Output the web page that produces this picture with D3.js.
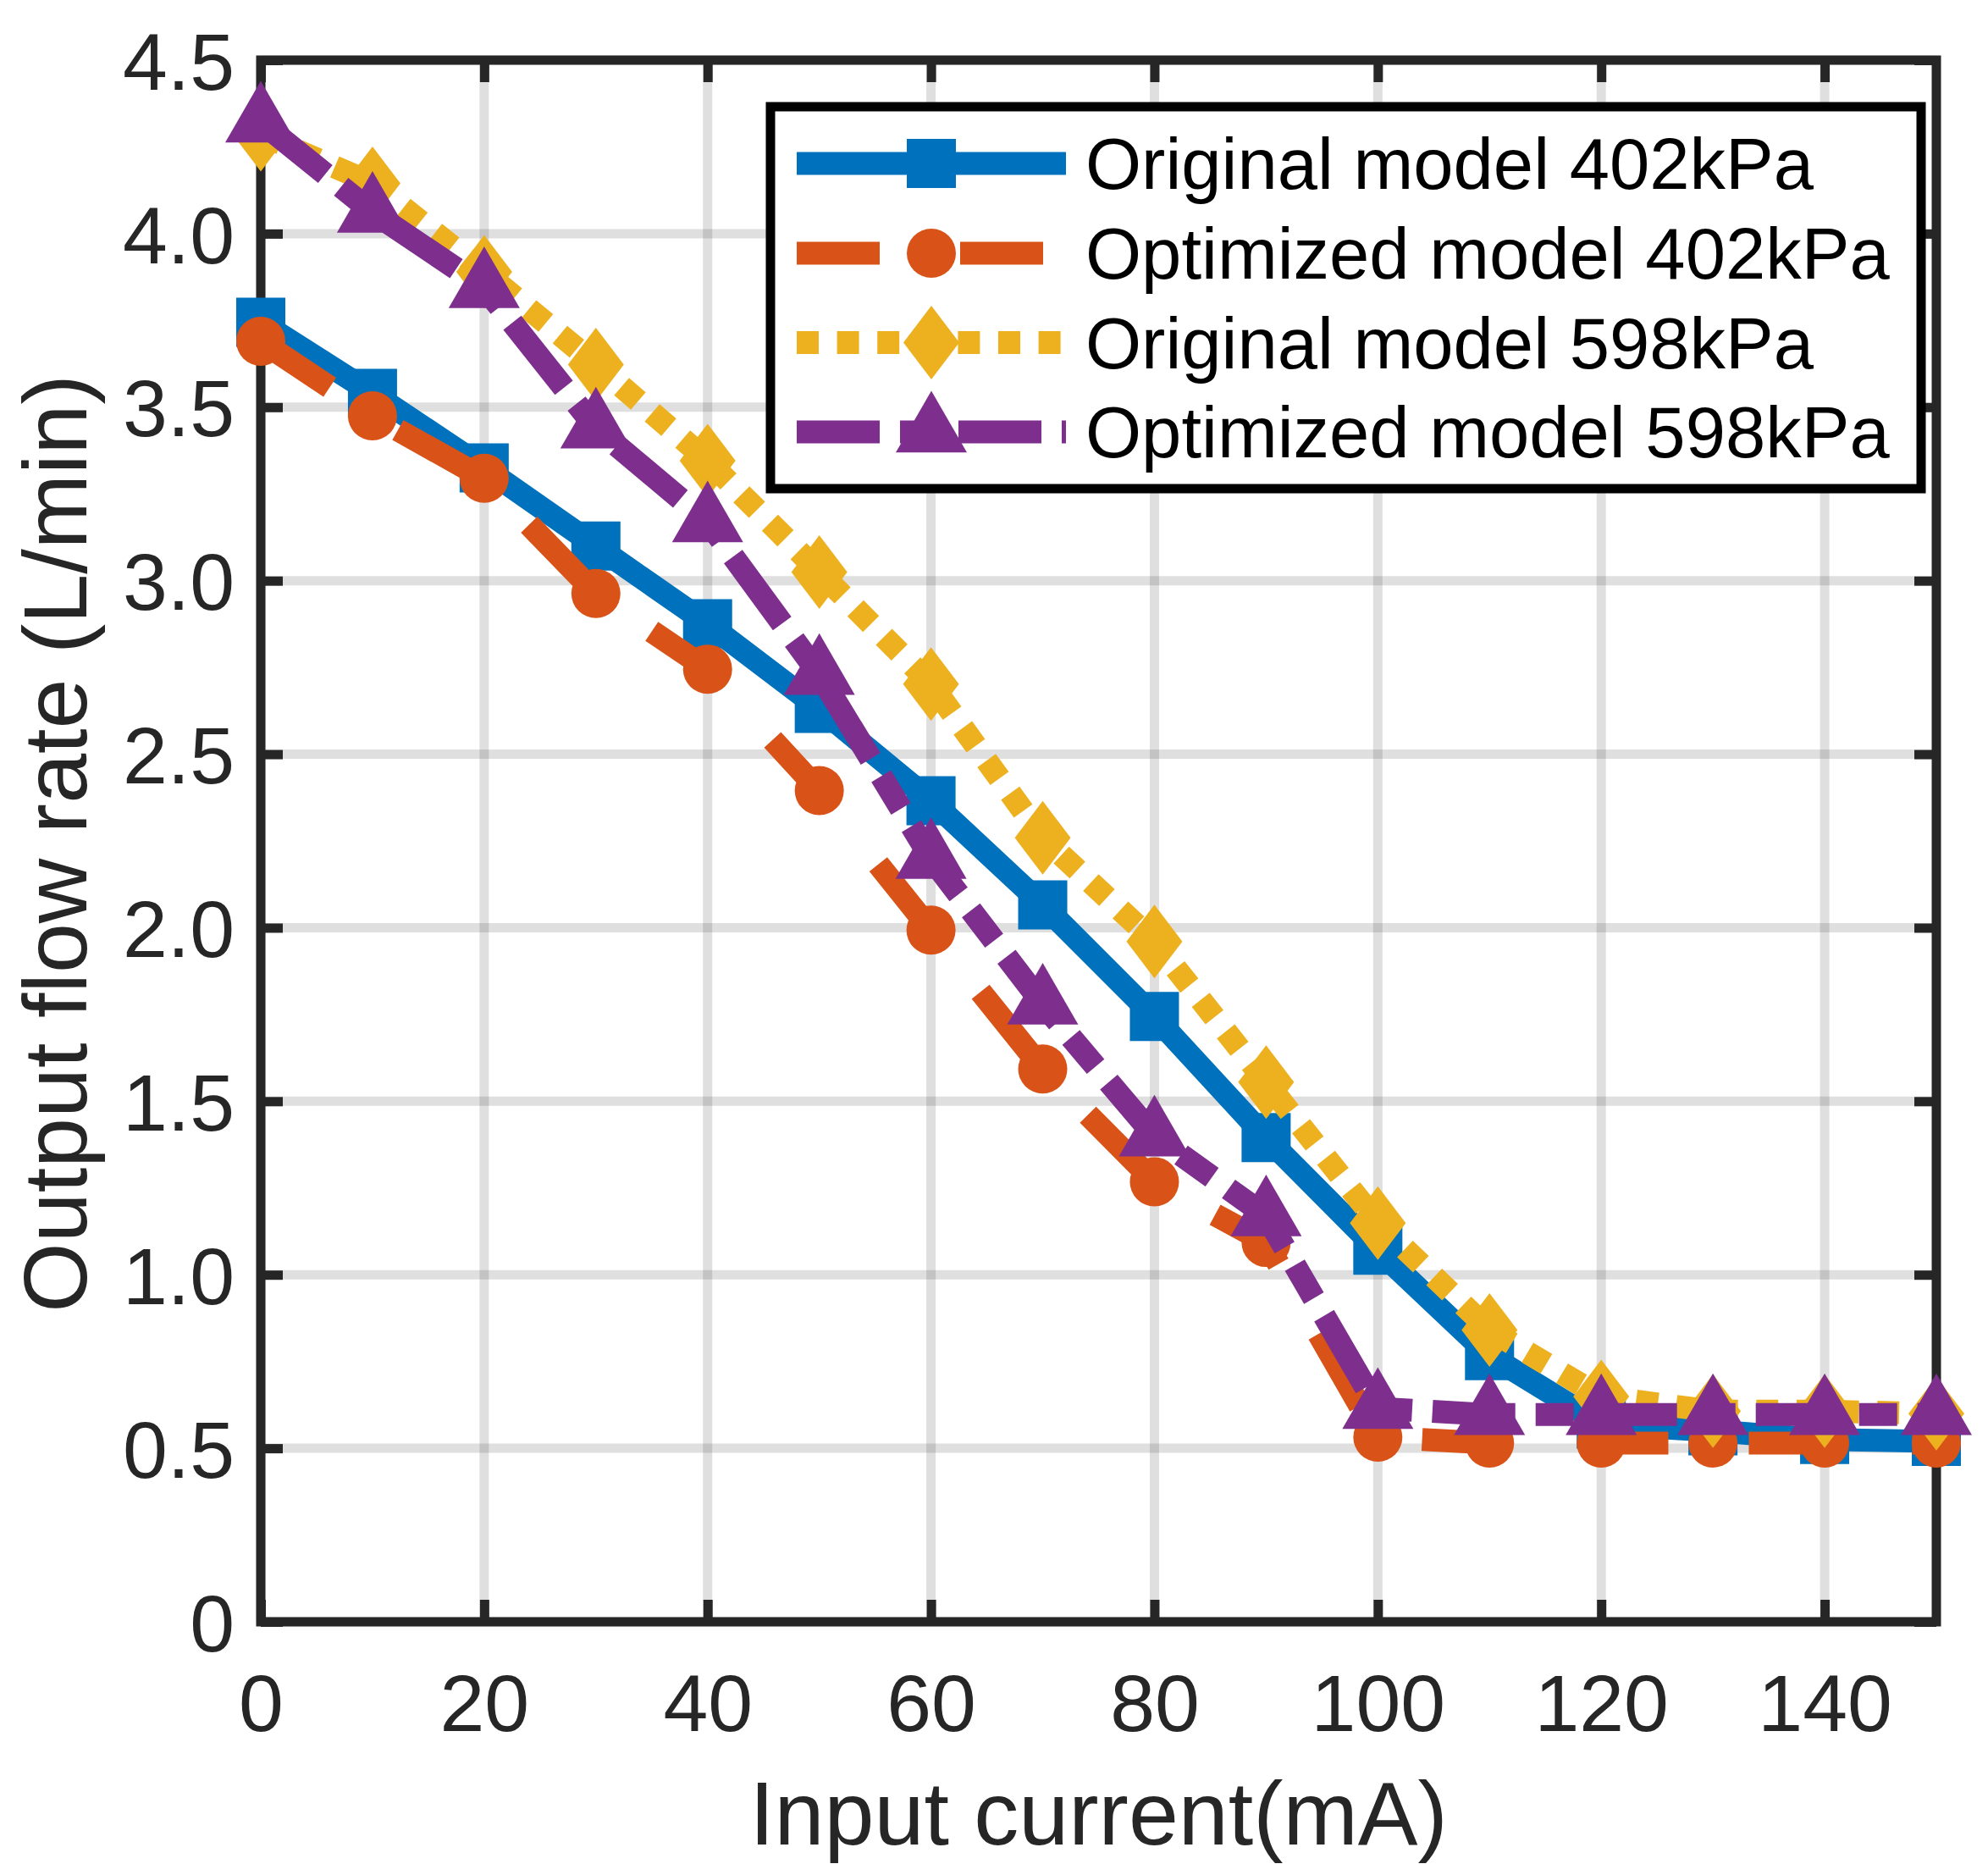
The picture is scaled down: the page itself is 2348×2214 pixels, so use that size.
<!DOCTYPE html>
<html>
<head>
<meta charset="utf-8">
<script src="https://cdn.jsdelivr.net/npm/d3@7"></script>
<style>
  html, body { margin: 0; padding: 0; background: #fff; }
  svg { display: block; }
  text { font-family: "Liberation Sans", Arial, Helvetica, sans-serif; }
</style>
</head>
<body>
<div id="chart"></div>
<script>
// data (input current in mA, flow rate in L/min)
const current = [0, 10, 20, 30, 40, 50, 60, 70, 80, 90, 100, 110, 120, 130, 140, 150];
const original402 = [3.745, 3.54, 3.325, 3.10, 2.876, 2.632, 2.366, 2.066, 1.744, 1.395, 1.071, 0.767, 0.57, 0.55, 0.525, 0.52];
const optimized402 = [3.69, 3.475, 3.295, 2.963, 2.745, 2.395, 1.993, 1.593, 1.268, 1.093, 0.532, 0.515, 0.515, 0.515, 0.515, 0.515];
const original598 = [4.285, 4.145, 3.89, 3.623, 3.346, 3.025, 2.702, 2.259, 1.96, 1.555, 1.149, 0.841, 0.649, 0.607, 0.607, 0.60];
const optimized598 = [4.322, 4.062, 3.845, 3.44, 3.17, 2.73, 2.20, 1.78, 1.40, 1.17, 0.615, 0.597, 0.597, 0.597, 0.597, 0.597];

const seriesNames = ['Original model 402kPa', 'Optimized model 402kPa', 'Original model 598kPa', 'Optimized model 598kPa'];
const xTicks = [0, 20, 40, 60, 80, 100, 120, 140];
const yTicks = [0, 0.5, 1.0, 1.5, 2.0, 2.5, 3.0, 3.5, 4.0, 4.5];
const xLabel = 'Input current(mA)';
const yLabel = 'Output flow rate (L/min)';

const W = 2348, H = 2214;
const box = { left: 308, right: 2287, top: 71, bottom: 1915 };
const ink = '#262626';

// marker shapes, sized in px (size argument ignored)
const squareMark = { draw(ctx) { ctx.rect(-29, -29, 58, 58); } };
const circleMark = { draw(ctx) { ctx.moveTo(29, 0); ctx.arc(0, 0, 29, 0, 2 * Math.PI); } };
const diamondMark = {
  draw(ctx) {
    ctx.moveTo(0, -43.5); ctx.lineTo(33, 0); ctx.lineTo(0, 43.5); ctx.lineTo(-33, 0); ctx.closePath();
  }
};
const triangleMark = {
  draw(ctx) {
    ctx.moveTo(0, -48.5); ctx.lineTo(42, 24.25); ctx.lineTo(-42, 24.25); ctx.closePath();
  }
};

const series = [
  { name: seriesNames[0], values: original402, color: '#0072BD', dash: null, mark: squareMark },
  { name: seriesNames[1], values: optimized402, color: '#D95319', dash: '98,95', mark: circleMark },
  { name: seriesNames[2], values: original598, color: '#EDB120', dash: '26,21.6', mark: diamondMark },
  { name: seriesNames[3], values: optimized598, color: '#7E2F8E', dash: '98,24,45,24', mark: triangleMark },
];

const x = d3.scaleLinear().domain([0, 150]).range([box.left, box.right]);
const y = d3.scaleLinear().domain([0, 4.5]).range([box.bottom, box.top]);

const svg = d3.select('#chart').append('svg')
  .attr('width', W)
  .attr('height', H)
  .attr('viewBox', `0 0 ${W} ${H}`);

svg.append('rect').attr('width', W).attr('height', H).attr('fill', '#fff');

// grid
const grid = svg.append('g')
  .attr('stroke', ink)
  .attr('stroke-opacity', 0.15)
  .attr('stroke-width', 11);
grid.selectAll('.gx').data(xTicks).join('line')
  .attr('x1', d => x(d)).attr('x2', d => x(d))
  .attr('y1', box.top).attr('y2', box.bottom);
grid.selectAll('.gy').data(yTicks).join('line')
  .attr('y1', d => y(d)).attr('y2', d => y(d))
  .attr('x1', box.left).attr('x2', box.right);

// axes with inward ticks on all four sides
const tickLen = 26;
const xAxisBottom = d3.axisBottom(x).tickValues(xTicks).tickSizeInner(-tickLen).tickSizeOuter(0)
  .tickFormat(d3.format('d')).tickPadding(0);
const xAxisTop = d3.axisTop(x).tickValues(xTicks).tickSizeInner(-tickLen).tickSizeOuter(0).tickFormat('');
const yAxisLeft = d3.axisLeft(y).tickValues(yTicks).tickSizeInner(-tickLen).tickSizeOuter(0)
  .tickFormat(d => d === 0 ? '0' : d3.format('.1f')(d));
const yAxisRight = d3.axisRight(y).tickValues(yTicks).tickSizeInner(-tickLen).tickSizeOuter(0).tickFormat('');

function styleAxis(g) {
  g.select('.domain').remove();
  g.selectAll('.tick line').attr('stroke', ink).attr('stroke-width', 11);
  g.selectAll('.tick text')
    .attr('fill', ink)
    .style('font-size', '95px')
    .style('font-family', '"Liberation Sans", Arial, Helvetica, sans-serif');
}

const gxb = svg.append('g').attr('transform', `translate(0,${box.bottom})`).call(xAxisBottom).call(styleAxis);
gxb.selectAll('.tick text').attr('y', 129).attr('dy', null);
svg.append('g').attr('transform', `translate(0,${box.top})`).call(xAxisTop).call(styleAxis);
const gyl = svg.append('g').attr('transform', `translate(${box.left},0)`).call(yAxisLeft).call(styleAxis);
gyl.selectAll('.tick text').attr('x', -31).attr('dy', '0.36em');
svg.append('g').attr('transform', `translate(${box.right},0)`).call(yAxisRight).call(styleAxis);

svg.append('rect')
  .attr('x', box.left).attr('y', box.top)
  .attr('width', box.right - box.left).attr('height', box.bottom - box.top)
  .attr('fill', 'none').attr('stroke', ink).attr('stroke-width', 11);

// axis labels
svg.append('text')
  .attr('x', (box.left + box.right) / 2).attr('y', 2178)
  .attr('text-anchor', 'middle').attr('fill', ink)
  .style('font-size', '106px')
  .text(xLabel);
svg.append('text')
  .attr('transform', `translate(102,${(box.top + box.bottom) / 2 + 3}) rotate(-90)`)
  .attr('text-anchor', 'middle').attr('fill', ink)
  .style('font-size', '106px')
  .text(yLabel);

// series
const line = d3.line().x(d => x(d[0])).y(d => y(d[1]));

series.forEach(s => {
  const pts = current.map((c, i) => [c, s.values[i]]);
  const g = svg.append('g');
  g.append('path')
    .attr('d', line(pts))
    .attr('fill', 'none')
    .attr('stroke', s.color)
    .attr('stroke-width', 27)
    .attr('stroke-linejoin', 'miter')
    .attr('stroke-miterlimit', 4)
    .attr('stroke-linecap', 'butt')
    .attr('stroke-dasharray', s.dash);
  g.selectAll('path.mark').data(pts).join('path')
    .attr('class', 'mark')
    .attr('transform', d => `translate(${x(d[0])},${y(d[1])})`)
    .attr('d', d3.symbol().type(s.mark))
    .attr('fill', s.color);
});

// legend
const legend = svg.append('g');
legend.append('rect')
  .attr('x', 910).attr('y', 126).attr('width', 1359).attr('height', 451)
  .attr('fill', '#fff').attr('stroke', '#000').attr('stroke-width', 11);
const rows = [193, 299, 404.5, 510];
series.forEach((s, i) => {
  const row = legend.append('g').attr('transform', `translate(0,${rows[i]})`);
  row.append('line')
    .attr('x1', 941).attr('x2', 1259)
    .attr('stroke', s.color).attr('stroke-width', 27)
    .attr('stroke-linecap', 'butt')
    .attr('stroke-dasharray', s.dash);
  row.append('path')
    .attr('transform', 'translate(1100,0)')
    .attr('d', d3.symbol().type(s.mark))
    .attr('fill', s.color);
  row.append('text')
    .attr('x', 1282).attr('y', 30)
    .attr('fill', '#000')
    .style('font-size', '85px')
    .text(s.name);
});
</script>
</body>
</html>
